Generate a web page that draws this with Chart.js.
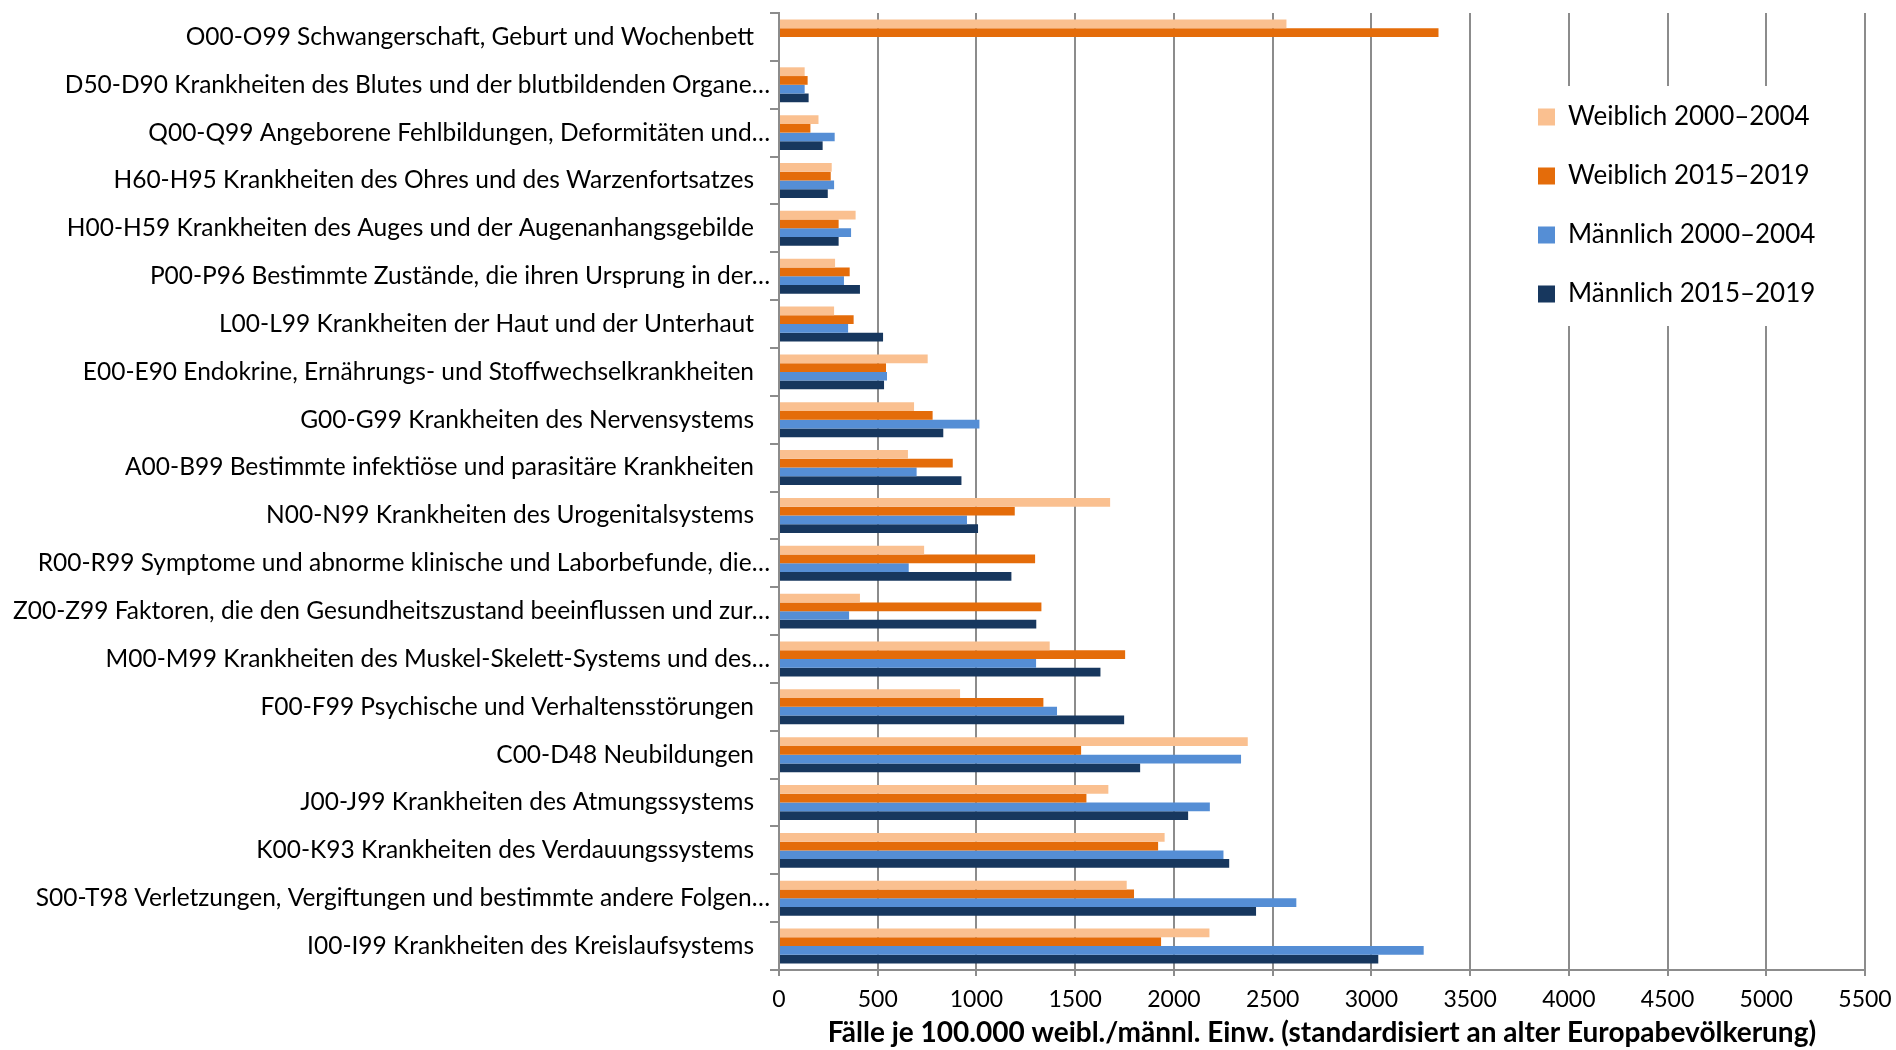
<!DOCTYPE html>
<html>
<head>
<meta charset="utf-8">
<script src="https://cdn.jsdelivr.net/npm/chart.js@4.4.1/dist/chart.umd.min.js"></script>
<style>
  html, body { margin: 0; padding: 0; background: #fff; }
  #wrap { width: 1896px; height: 1050px; }
</style>
</head>
<body>
<div id="wrap"><canvas id="c" width="1896" height="1050"></canvas></div>
<script>
const categories = [
  "O00-O99 Schwangerschaft, Geburt und Wochenbett",
  "D50-D90 Krankheiten des Blutes und der blutbildenden Organe…",
  "Q00-Q99 Angeborene Fehlbildungen, Deformitäten und…",
  "H60-H95 Krankheiten des Ohres und des Warzenfortsatzes",
  "H00-H59 Krankheiten des Auges und der Augenanhangsgebilde",
  "P00-P96 Bestimmte Zustände, die ihren Ursprung in der…",
  "L00-L99 Krankheiten der Haut und der Unterhaut",
  "E00-E90 Endokrine, Ernährungs- und Stoffwechselkrankheiten",
  "G00-G99 Krankheiten des Nervensystems",
  "A00-B99 Bestimmte infektiöse und parasitäre Krankheiten",
  "N00-N99 Krankheiten des Urogenitalsystems",
  "R00-R99 Symptome und abnorme klinische und Laborbefunde, die…",
  "Z00-Z99 Faktoren, die den Gesundheitszustand beeinflussen und zur…",
  "M00-M99 Krankheiten des Muskel-Skelett-Systems und des…",
  "F00-F99 Psychische und Verhaltensstörungen",
  "C00-D48 Neubildungen",
  "J00-J99 Krankheiten des Atmungssystems",
  "K00-K93 Krankheiten des Verdauungssystems",
  "S00-T98 Verletzungen, Vergiftungen und bestimmte andere Folgen…",
  "I00-I99 Krankheiten des Kreislaufsystems"
];
const seriesNames = ["Weiblich 2000–2004", "Weiblich 2015–2019", "Männlich 2000–2004", "Männlich 2015–2019"];
const weiblich2000 = [2570, 130, 200, 267, 388, 284, 279, 753, 684, 653, 1677, 735, 410, 1371, 917, 2374, 1668, 1953, 1761, 2180];
const weiblich2015 = [3340, 145, 159, 262, 302, 358, 378, 542, 778, 880, 1194, 1297, 1329, 1753, 1339, 1530, 1557, 1920, 1798, 1935];
const maennlich2000 = [null, 130, 282, 279, 365, 329, 350, 547, 1015, 697, 952, 657, 355, 1302, 1408, 2340, 2182, 2251, 2620, 3265];
const maennlich2015 = [null, 150, 221, 247, 302, 410, 527, 532, 832, 924, 1008, 1177, 1303, 1628, 1748, 1829, 2072, 2280, 2416, 3035];
const xMin = 0, xMax = 5500, xStep = 500;
const xTitle = "Fälle je 100.000 weibl./männl. Einw. (standardisiert an alter Europabevölkerung)";

const colors = ["#FAC090", "#E46C0A", "#558ED5", "#17375E"];
const gridGray = "#8c8c8c";

Chart.defaults.font.family = "Lato, 'Open Sans', sans-serif";
Chart.defaults.color = "#000";

const legendPlacer = {
  id: 'legendPlacer',
  afterLayout(chart) {
    const lg = chart.legend;
    if (!lg) return;
    const w = lg.width;
    lg.left = 1505;
    lg.right = lg.left + w;
    lg.top = 71;
    lg.bottom = chart.chartArea.bottom;
    lg.height = lg.bottom - lg.top;
  },
  beforeDraw(chart) {
    // truncated (ellipsis) labels sit slightly further right, as in the original
    const ys = chart.scales.y;
    ys.getLabelItems().forEach(it => {
      if (!it._shifted && String(it.label).endsWith('…')) {
        it.options.translation[0] += 16;
        it._shifted = true;
      }
    });
  },
  beforeDatasetsDraw(chart) {
    const lg = chart.legend;
    const ctx = chart.ctx;
    ctx.save();
    ctx.fillStyle = '#ffffff';
    ctx.fillRect(lg.left + 7, lg.top + 15, 330, 240);
    ctx.restore();
    lg.draw(chart.chartArea);
  }
};

const data = {
  labels: categories,
  datasets: [weiblich2000, weiblich2015, maennlich2000, maennlich2015].map((vals, i) => ({
    label: seriesNames[i],
    data: vals,
    backgroundColor: colors[i],
    borderWidth: 0,
    categoryPercentage: 0.73,
    barPercentage: 1.0
  }))
};

new Chart(document.getElementById('c'), {
  type: 'bar',
  data,
  plugins: [legendPlacer],
  options: {
    indexAxis: 'y',
    responsive: false,
    animation: false,
    devicePixelRatio: 1,
    layout: { padding: { top: 13, right: 31, left: 0, bottom: 0 } },
    plugins: {
      tooltip: { enabled: false },
      legend: {
        position: 'chartArea',
        align: 'start',
        labels: {
          font: { size: 26 },
          color: '#000',
          boxWidth: 17,
          boxHeight: 17,
          padding: 33
        }
      }
    },
    scales: {
      x: {
        type: 'linear',
        min: xMin,
        max: xMax,
        afterFit(scale) { scale.height = 80; scale.paddingLeft = 0; scale.paddingRight = 0; },
        ticks: { stepSize: xStep, font: { size: 23 }, color: '#000', padding: 10, maxRotation: 0,
                 callback: (v) => String(v) },
        grid: { color: gridGray, lineWidth: 2, drawTicks: true, tickLength: 6 },
        border: { display: true, color: gridGray, width: 2 },
        title: {
          display: true,
          text: xTitle,
          font: { size: 28, weight: 'bold' },
          color: '#000',
          padding: { top: 0, bottom: 0 }
        }
      },
      y: {
        afterFit(scale) { scale.width = 779; scale.paddingTop = 0; scale.paddingBottom = 0; },
        ticks: { font: { size: 24.5 }, color: '#000', padding: 16, autoSkip: false },
        grid: { display: true, drawOnChartArea: false, drawTicks: true, tickLength: 9, color: gridGray, lineWidth: 2, offset: true },
        border: { display: true, color: gridGray, width: 2 }
      }
    }
  }
});
</script>
</body>
</html>
